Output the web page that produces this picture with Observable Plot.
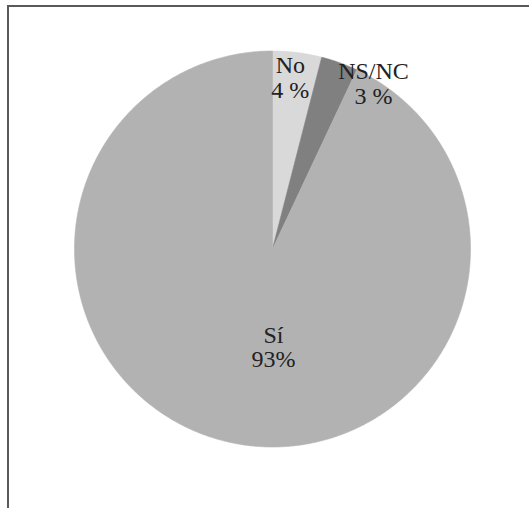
<!DOCTYPE html>
<html>
<head>
<meta charset="utf-8">
<script src="https://cdn.jsdelivr.net/npm/d3@7"></script>
<script src="https://cdn.jsdelivr.net/npm/@observablehq/plot@0.6"></script>
<style>
  body { margin: 0; background: #fff; }
  #wrap { position: relative; width: 529px; height: 508px; overflow: hidden; }
  #wrap svg { position: absolute; left: 0; top: 0; }
  #wrap svg text { font-family: "Liberation Serif", "Times New Roman", Times, "Nimbus Roman", serif !important; }
  #border { position: absolute; left: 7px; top: 5px; width: 530px; height: 510px;
            border-top: 2px solid #5a5a5a; border-left: 2px solid #5a5a5a; box-sizing: border-box; }
</style>
</head>
<body>
<div id="wrap"><div id="border"></div></div>
<script>
// Data
const categories = ["No", "NS/NC", "Sí"];
const values = [4, 3, 93];
const labelTexts = ["No\n4 %", "NS/NC\n3 %", "Sí\n93%"];
const colors = ["#d9d9d9", "#808080", "#b2b2b2"];
// label anchor positions in unit-circle coordinates (layout)
const labelX = [0.09, 0.51, 0.005];
const labelY = [0.866, 0.835, -0.496];

const pie = d3.pie().sort(null).value(d => d)(values);
const pts = [];
pie.forEach((a, i) => {
  const n = Math.max(4, Math.ceil((a.endAngle - a.startAngle) / 0.01));
  pts.push({cat: categories[i], x: 0, y: 0});
  for (let k = 0; k <= n; k++) {
    const t = a.startAngle + (a.endAngle - a.startAngle) * k / n;
    pts.push({cat: categories[i], x: Math.sin(t), y: Math.cos(t)});
  }
  pts.push({cat: categories[i], x: 0, y: 0});
});
const labels = categories.map((c, i) => ({cat: c, text: labelTexts[i], x: labelX[i], y: labelY[i]}));

const R = 198, cx = 272, cy = 248.5;
const chart = Plot.plot({
  width: 529,
  height: 508,
  marginLeft: cx - R,
  marginRight: 529 - (cx + R),
  marginTop: cy - R,
  marginBottom: 508 - (cy + R),
  x: {domain: [-1, 1], axis: null},
  y: {domain: [-1, 1], axis: null},
  color: {domain: categories, range: colors},
  style: {background: "transparent", fontFamily: "'Liberation Serif', 'Times New Roman', serif"},
  marks: [
    Plot.line(pts, {x: "x", y: "y", z: "cat", fill: "cat", stroke: "cat", strokeWidth: 0.6, curve: "linear"}),
    Plot.text(labels, {x: "x", y: "y", text: "text", fontSize: 24, lineHeight: 1.02, fill: "#222", textAnchor: "middle", lineAnchor: "middle"})
  ]
});
document.getElementById("wrap").insertBefore(chart, document.getElementById("border"));
</script>
</body>
</html>
